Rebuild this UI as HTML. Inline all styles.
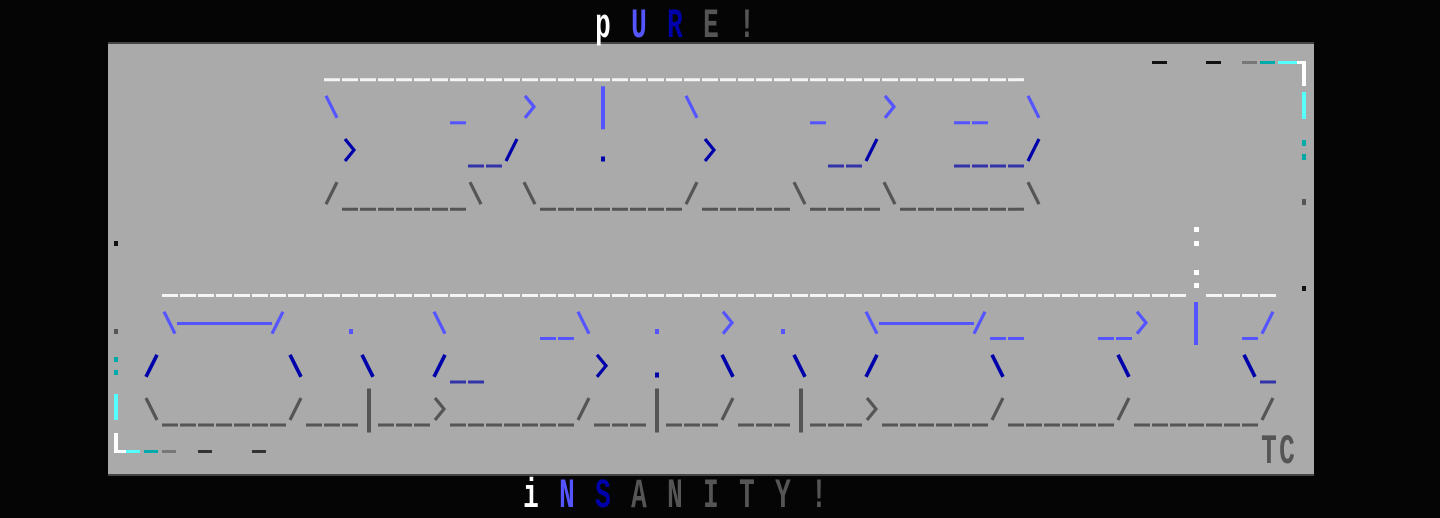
<!DOCTYPE html>
<html><head><meta charset="utf-8"><style>
html,body{margin:0;padding:0;background:#050505;}
svg{display:block;}
text{font-family:"Liberation Mono",monospace;font-weight:bold;font-size:42px;}
</style></head><body>
<svg width="1440" height="518" viewBox="0 0 1440 518" xmlns="http://www.w3.org/2000/svg">
<rect x="0" y="0" width="1440" height="518" fill="#050505"/>
<rect x="108" y="42" width="1206" height="434" fill="#444"/>
<rect x="108" y="44" width="1206" height="430" fill="#aaaaaa"/>

<!-- top texts -->
<g text-anchor="middle">
<text transform="translate(603,37) scale(0.62,1)" fill="#ffffff">p</text>
<text transform="translate(639,37) scale(0.62,1)" fill="#5555ff">U</text>
<text transform="translate(675,37) scale(0.62,1)" fill="#0000aa">R</text>
<text transform="translate(711,37) scale(0.62,1)" fill="#555">E</text>
<text transform="translate(747,37) scale(0.62,1)" fill="#555">!</text>

<text transform="translate(531,507) scale(0.62,1)" fill="#ffffff">i</text>
<text transform="translate(567,507) scale(0.62,1)" fill="#5555ff">N</text>
<text transform="translate(603,507) scale(0.62,1)" fill="#0000aa">S</text>
<text transform="translate(639,507) scale(0.62,1)" fill="#555">A</text>
<text transform="translate(675,507) scale(0.62,1)" fill="#555">N</text>
<text transform="translate(711,507) scale(0.62,1)" fill="#555">I</text>
<text transform="translate(747,507) scale(0.62,1)" fill="#555">T</text>
<text transform="translate(783,507) scale(0.62,1)" fill="#555">Y</text>
<text transform="translate(819,507) scale(0.62,1)" fill="#555">!</text>

<text transform="translate(1269,463) scale(0.62,1)" fill="#555">T</text>
<text transform="translate(1287,463) scale(0.62,1)" fill="#555">C</text>
</g>

<g fill="none" stroke-linecap="butt" stroke-width="3.2">
<!-- underscore runs -->
<g stroke-width="3" stroke-dasharray="16 2">
<line x1="324" y1="79.7" x2="1024" y2="79.7" stroke="#f4f4f4"/>
<line x1="162" y1="295.5" x2="1186" y2="295.5" stroke="#f4f4f4"/>
<line x1="1206" y1="295.5" x2="1276" y2="295.5" stroke="#f4f4f4"/>
<!-- row2 LB -->
<line x1="450" y1="122.8" x2="466" y2="122.8" stroke="#5555ff"/>
<line x1="810" y1="122.8" x2="826" y2="122.8" stroke="#5555ff"/>
<line x1="954" y1="122.8" x2="988" y2="122.8" stroke="#5555ff"/>
<!-- row3 MB -->
<line x1="468" y1="166" x2="502" y2="166" stroke="#3333aa"/>
<line x1="828" y1="166" x2="862" y2="166" stroke="#3333aa"/>
<line x1="954" y1="166" x2="1024" y2="166" stroke="#3333aa"/>
<!-- row4 gray -->
<line x1="342" y1="209.2" x2="466" y2="209.2" stroke="#555"/>
<line x1="540" y1="209.2" x2="682" y2="209.2" stroke="#555"/>
<line x1="702" y1="209.2" x2="790" y2="209.2" stroke="#555"/>
<line x1="810" y1="209.2" x2="880" y2="209.2" stroke="#555"/>
<line x1="900" y1="209.2" x2="1024" y2="209.2" stroke="#555"/>
<!-- row7 LB -->
<line x1="540" y1="338.5" x2="574" y2="338.5" stroke="#5555ff"/>
<line x1="990" y1="338.5" x2="1024" y2="338.5" stroke="#5555ff"/>
<line x1="1098" y1="338.5" x2="1132" y2="338.5" stroke="#5555ff"/>
<line x1="1242" y1="338.5" x2="1258" y2="338.5" stroke="#5555ff"/>
<!-- row8 MB -->
<line x1="450" y1="382" x2="484" y2="382" stroke="#3333aa"/>
<line x1="1260" y1="382" x2="1276" y2="382" stroke="#3333aa"/>
<!-- row9 gray -->
<line x1="162" y1="425" x2="286" y2="425" stroke="#555"/>
<line x1="306" y1="425" x2="358" y2="425" stroke="#555"/>
<line x1="378" y1="425" x2="430" y2="425" stroke="#555"/>
<line x1="450" y1="425" x2="574" y2="425" stroke="#555"/>
<line x1="594" y1="425" x2="646" y2="425" stroke="#555"/>
<line x1="666" y1="425" x2="718" y2="425" stroke="#555"/>
<line x1="738" y1="425" x2="790" y2="425" stroke="#555"/>
<line x1="810" y1="425" x2="862" y2="425" stroke="#555"/>
<line x1="882" y1="425" x2="988" y2="425" stroke="#555"/>
<line x1="1008" y1="425" x2="1114" y2="425" stroke="#555"/>
<line x1="1134" y1="425" x2="1258" y2="425" stroke="#555"/>
</g>

<!-- row 2 light blue (y=86.33) -->
<g stroke="#5555ff">
<line x1="326" y1="95.8" x2="337" y2="117.8"/>
<polyline points="525,95.8 534,106.8 525,117.8"/>
<line x1="686" y1="95.8" x2="697" y2="117.8"/>
<polyline points="885,95.8 894,106.8 885,117.8"/>
<line x1="1028" y1="95.8" x2="1039" y2="117.8"/>
</g>
<!-- row 3 dark blue (y=129.5) -->
<g stroke="#0000aa">
<polyline points="345,139 354,150 345,161"/>
<line x1="517" y1="139" x2="506" y2="161"/>
<polyline points="705,139 714,150 705,161"/>
<line x1="877" y1="139" x2="866" y2="161"/>
<line x1="1039" y1="139" x2="1028" y2="161"/>
</g>
<!-- row 4 gray (y=172.67) -->
<g stroke="#555">
<line x1="337" y1="182.2" x2="326" y2="204.2"/>
<line x1="470" y1="182.2" x2="481" y2="204.2"/>
<line x1="524" y1="182.2" x2="535" y2="204.2"/>
<line x1="697" y1="182.2" x2="686" y2="204.2"/>
<line x1="794" y1="182.2" x2="805" y2="204.2"/>
<line x1="884" y1="182.2" x2="895" y2="204.2"/>
<line x1="1028" y1="182.2" x2="1039" y2="204.2"/>
</g>
<!-- row 7 light blue (y=302.17) -->
<g stroke="#5555ff">
<line x1="164" y1="311.7" x2="175" y2="333.7"/>
<line x1="283" y1="311.7" x2="272" y2="333.7"/>
<line x1="434" y1="311.7" x2="445" y2="333.7"/>
<line x1="578" y1="311.7" x2="589" y2="333.7"/>
<polyline points="723,311.7 732,322.7 723,333.7"/>
<line x1="866" y1="311.7" x2="877" y2="333.7"/>
<line x1="985" y1="311.7" x2="974" y2="333.7"/>
<polyline points="1137,311.7 1146,322.7 1137,333.7"/>
<line x1="1273" y1="311.7" x2="1262" y2="333.7"/>
<line x1="177" y1="323.5" x2="272" y2="323.5" stroke-width="3"/>
<line x1="879" y1="323.5" x2="974" y2="323.5" stroke-width="3"/>
</g>
<!-- row 8 dark blue (y=345.33) -->
<g stroke="#0000aa" stroke-width="3.6">
<line x1="157" y1="354.8" x2="146" y2="376.8"/>
<line x1="290" y1="354.8" x2="301" y2="376.8"/>
<line x1="362" y1="354.8" x2="373" y2="376.8"/>
<line x1="445" y1="354.8" x2="434" y2="376.8"/>
<polyline points="597,354.8 606,365.8 597,376.8" stroke-width="3.2"/>
<line x1="722" y1="354.8" x2="733" y2="376.8"/>
<line x1="794" y1="354.8" x2="805" y2="376.8"/>
<line x1="877" y1="354.8" x2="866" y2="376.8"/>
<line x1="992" y1="354.8" x2="1003" y2="376.8"/>
<line x1="1118" y1="354.8" x2="1129" y2="376.8"/>
<line x1="1244" y1="354.8" x2="1255" y2="376.8"/>
</g>
<!-- row 9 gray (y=388.5) -->
<g stroke="#555">
<line x1="146" y1="398" x2="157" y2="420"/>
<line x1="301" y1="398" x2="290" y2="420"/>
<polyline points="435,398 444,409 435,420"/>
<line x1="589" y1="398" x2="578" y2="420"/>
<line x1="733" y1="398" x2="722" y2="420"/>
<polyline points="867,398 876,409 867,420"/>
<line x1="1003" y1="398" x2="992" y2="420"/>
<line x1="1129" y1="398" x2="1118" y2="420"/>
<line x1="1273" y1="398" x2="1262" y2="420"/>
</g>
</g>

<!-- bars and dots -->
<rect x="601" y="86.3" width="4" height="43" fill="#5555ff"/>
<rect x="601" y="156.5" width="4" height="5" fill="#0000aa"/>
<rect x="349" y="329" width="4" height="5" fill="#5555ff"/>
<rect x="655" y="329" width="4" height="5" fill="#5555ff"/>
<rect x="781" y="329" width="4" height="5" fill="#5555ff"/>
<rect x="1194" y="302" width="4" height="43" fill="#5555ff"/>
<rect x="655" y="372.5" width="4" height="5" fill="#0000aa"/>
<rect x="367" y="388.5" width="4" height="44" fill="#555"/>
<rect x="655" y="388.5" width="4" height="44" fill="#555"/>
<rect x="799" y="388.5" width="4" height="44" fill="#555"/>
<!-- white colons col 66 -->
<rect x="1194" y="227" width="5" height="5" fill="#fff"/>
<rect x="1194" y="241" width="5" height="5" fill="#fff"/>
<rect x="1194" y="270" width="5" height="5" fill="#fff"/>
<rect x="1194" y="283" width="5" height="5" fill="#fff"/>

<!-- top right frame -->
<rect x="1152" y="61" width="15" height="3" fill="#111"/>
<rect x="1206" y="61" width="15" height="3" fill="#111"/>
<rect x="1242" y="61" width="15" height="3" fill="#777"/>
<rect x="1260" y="61" width="15" height="3" fill="#00aaaa"/>
<rect x="1278" y="61" width="19" height="3" fill="#55ffff"/>
<rect x="1297" y="61" width="9" height="3" fill="#fff"/>
<rect x="1302" y="61" width="4" height="25" fill="#fff"/>
<rect x="1302" y="92" width="4" height="27" fill="#55ffff"/>
<rect x="1302" y="140" width="4" height="6" fill="#00aaaa"/>
<rect x="1302" y="154" width="4" height="6" fill="#00aaaa"/>
<rect x="1302" y="199" width="4" height="6" fill="#555"/>
<rect x="1302" y="286" width="4" height="5" fill="#111"/>

<!-- left frame -->
<rect x="114" y="241" width="4" height="5" fill="#111"/>
<rect x="114" y="329" width="4" height="5" fill="#555"/>
<rect x="114" y="357" width="4" height="5" fill="#00aaaa"/>
<rect x="114" y="370" width="4" height="5" fill="#00aaaa"/>
<rect x="114" y="394" width="4" height="26" fill="#55ffff"/>
<rect x="114" y="433" width="4" height="20" fill="#fff"/>
<rect x="114" y="450" width="12" height="3" fill="#fff"/>
<rect x="126" y="450" width="14" height="3" fill="#55ffff"/>
<rect x="144" y="450" width="14" height="3" fill="#00aaaa"/>
<rect x="162" y="450" width="14" height="3" fill="#777"/>
<rect x="198" y="450" width="14" height="3" fill="#333"/>
<rect x="252" y="450" width="14" height="3" fill="#333"/>
</svg>
</body></html>
